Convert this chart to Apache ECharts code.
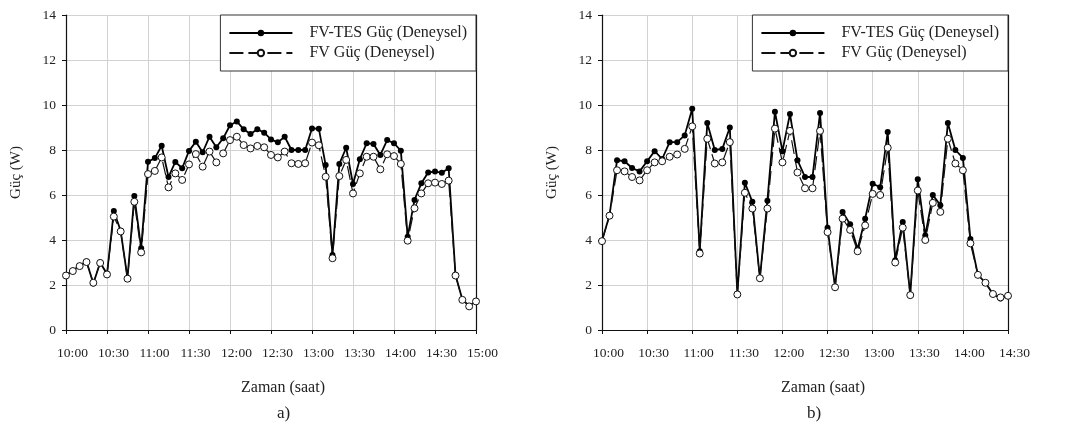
<!DOCTYPE html>
<html>
<head>
<meta charset="utf-8">
<script src="https://cdn.jsdelivr.net/npm/echarts@6/dist/echarts.min.js"></script>
<style>
  html, body { margin: 0; padding: 0; background: #fff; }
  #chartA, #chartB { position: absolute; top: 0; width: 537px; height: 430px; }
  #chartA { left: 0; }
  #chartB { left: 537px; width: 538px; }
</style>
</head>
<body>
<div id="chartA"></div>
<div id="chartB"></div>
<script>
// a) 10:00 - 15:00, one reading every 5 minutes
var timesA = ['10:00','10:05','10:10','10:15','10:20','10:25','10:30','10:35','10:40','10:45','10:50','10:55',
  '11:00','11:05','11:10','11:15','11:20','11:25','11:30','11:35','11:40','11:45','11:50','11:55',
  '12:00','12:05','12:10','12:15','12:20','12:25','12:30','12:35','12:40','12:45','12:50','12:55',
  '13:00','13:05','13:10','13:15','13:20','13:25','13:30','13:35','13:40','13:45','13:50','13:55',
  '14:00','14:05','14:10','14:15','14:20','14:25','14:30','14:35','14:40','14:45','14:50','14:55','15:00'];
var tesA = [2.44,2.64,2.86,3.04,2.07,3.0,2.49,5.29,4.41,2.3,
  5.96,3.63,7.48,7.64,8.19,6.8,7.47,7.19,7.96,8.37,
  7.9,8.59,8.12,8.52,9.1,9.27,8.92,8.71,8.92,8.77,
  8.47,8.34,8.59,8.0,8.0,8.0,8.96,8.95,7.33,3.33,
  7.38,8.1,6.49,7.59,8.3,8.27,7.78,8.44,8.3,7.97,
  4.15,5.78,6.52,7.0,7.04,6.99,7.19,2.44,1.36,1.07,1.29];
var fvA = [2.42,2.62,2.84,3.02,2.1,2.98,2.47,5.04,4.38,2.28,
  5.7,3.45,6.93,7.07,7.67,6.34,6.96,6.67,7.36,7.82,
  7.26,7.93,7.45,7.85,8.44,8.59,8.22,8.07,8.18,8.12,
  7.78,7.67,7.93,7.41,7.38,7.41,8.33,8.21,6.81,3.19,
  6.84,7.56,6.07,6.96,7.7,7.7,7.14,7.81,7.73,7.38,
  3.97,5.41,6.07,6.52,6.55,6.49,6.64,2.42,1.34,1.05,1.27];

// b) 10:00 - 14:30
var timesB = timesA.slice(0, 55);
var tesB = [3.97,5.1,7.55,7.5,7.2,7.05,7.5,7.95,7.6,8.35,
  8.35,8.65,9.83,3.5,9.2,8.0,8.05,9.0,1.6,6.55,
  5.7,2.3,5.75,9.7,7.95,9.6,7.55,6.8,6.8,9.65,
  4.55,1.9,5.25,4.7,3.6,4.95,6.5,6.35,8.8,3.1,
  4.8,1.55,6.7,4.2,6.0,5.55,9.2,8.0,7.65,4.05,
  2.45,2.1,1.6,1.4,1.5];
var fvB = [3.95,5.08,7.1,7.05,6.8,6.65,7.1,7.45,7.5,7.7,
  7.8,8.05,9.05,3.4,8.5,7.4,7.45,8.35,1.58,6.1,
  5.4,2.3,5.4,8.95,7.45,8.85,7.0,6.3,6.3,8.85,
  4.35,1.9,4.95,4.45,3.5,4.65,6.05,6.0,8.1,3.0,
  4.55,1.55,6.2,4.0,5.65,5.25,8.5,7.4,7.1,3.85,
  2.45,2.1,1.6,1.45,1.52];

var yTicks = [0, 2, 4, 6, 8, 10, 12, 14];
var nameTes = 'FV-TES Güç (Deneysel)';
var nameFv = 'FV Güç (Deneysel)';
var serif = 'Liberation Serif';

function makeOption(times, tes, fv, grid, tag, nameShift, tagLeft) {
  return {
    animation: false,
    textStyle: { fontFamily: serif },
    grid: grid,
    legend: {
      orient: 'vertical',
      right: grid.right,
      top: grid.top,
      data: [nameTes, nameFv],
      itemWidth: 63,
      itemHeight: 8,
      itemGap: 4,
      padding: [10, 9, 10, 8],
      borderColor: '#333',
      borderWidth: 1,
      borderRadius: 0,
      backgroundColor: '#fff',
      textStyle: { fontFamily: serif, fontSize: 16, color: '#222', padding: [0, 0, 0, 12] }
    },
    xAxis: {
      type: 'category',
      data: times,
      boundaryGap: false,
      name: 'Zaman (saat)',
      nameLocation: 'middle',
      nameGap: 50,
      nameTextStyle: { fontFamily: serif, fontSize: 16, color: '#222', padding: [0, 0, 0, nameShift] },
      axisLine: { lineStyle: { color: '#111', width: 1.2 } },
      axisTick: { interval: 5, length: 4, inside: false, lineStyle: { color: '#111' } },
      axisLabel: { interval: 5, fontFamily: serif, fontSize: 13.5, color: '#222', margin: 16, padding: [0, 0, 0, 13] },
      splitLine: { show: true, interval: 5, lineStyle: { color: '#d2d2d2', width: 1 } }
    },
    yAxis: [{
      type: 'value',
      min: yTicks[0],
      max: yTicks[yTicks.length - 1],
      interval: 2,
      name: 'Güç (W)',
      nameLocation: 'middle',
      nameGap: 42,
      nameTextStyle: { fontFamily: serif, fontSize: 15, color: '#222' },
      axisLine: { show: true, lineStyle: { color: '#111', width: 1.2 } },
      axisTick: { show: true, length: 4, lineStyle: { color: '#111' } },
      axisLabel: { fontFamily: serif, fontSize: 13.5, color: '#222', margin: 10 },
      splitLine: { lineStyle: { color: '#d2d2d2', width: 1 } }
    }, {
      type: 'value',
      position: 'right',
      min: 0,
      max: 14,
      axisLine: { show: true, lineStyle: { color: '#111', width: 1.2 } },
      axisTick: { show: false },
      axisLabel: { show: false },
      splitLine: { show: false }
    }],
    series: [{
      name: nameTes,
      type: 'line',
      data: tes,
      symbol: 'circle',
      symbolSize: 6,
      showAllSymbol: true,
      lineStyle: { color: '#000', width: 1.8 },
      itemStyle: { color: '#000' }
    }, {
      name: nameFv,
      type: 'line',
      data: fv,
      symbol: 'circle',
      symbolSize: 7,
      showAllSymbol: true,
      lineStyle: { color: '#111', width: 1.2, type: [14, 5] },
      itemStyle: { color: '#fff', borderColor: '#111', borderWidth: 1 }
    }],
    graphic: [{
      type: 'text',
      left: tagLeft,
      top: 405,
      style: { text: tag, font: '17px "Liberation Serif"', fill: '#222' }
    }]
  };
}

var chartA = echarts.init(document.getElementById('chartA'));
chartA.setOption(makeOption(timesA, tesA, fvA, { left: 66, right: 61, top: 15, bottom: 100 }, 'a)', 24, 277));
var chartB = echarts.init(document.getElementById('chartB'));
chartB.setOption(makeOption(timesB, tesB, fvB, { left: 61, right: 67, top: 15, bottom: 100 }, 'b)', 36, 270));
window.onresize = function () { chartA.resize(); chartB.resize(); };
</script>
</body>
</html>
